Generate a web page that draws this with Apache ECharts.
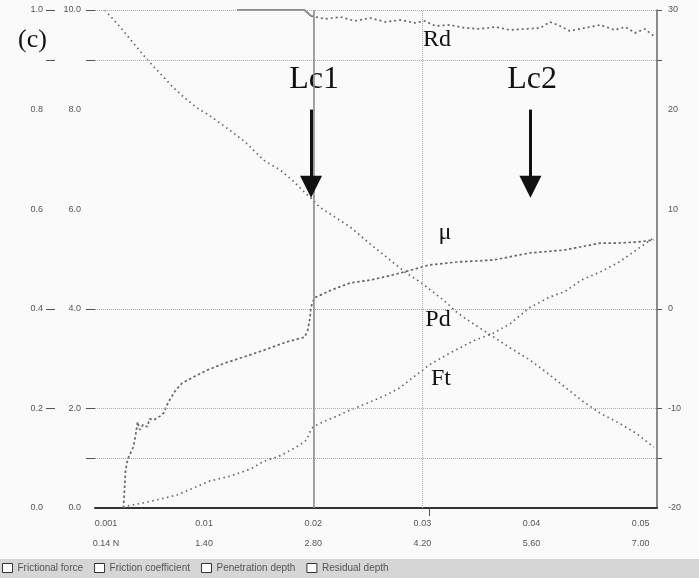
<!DOCTYPE html>
<html><head><meta charset="utf-8">
<script src="https://cdn.jsdelivr.net/npm/echarts@6/dist/echarts.min.js"></script>
<style>html,body{margin:0;padding:0;background:#fafafa}#c{width:699px;height:578px}</style>
</head><body><div id="c"></div>
<script>
// ---- data (x = scratch position, same units as tick labels) ----
const xTickVals = [0.001, 0.01, 0.02, 0.03, 0.04, 0.05];
const xTickRow1 = ["0.001", "0.01", "0.02", "0.03", "0.04", "0.05"];
const xTickRow2 = ["0.14 N", "1.40", "2.80", "4.20", "5.60", "7.00"];
const seriesNames = ["Frictional force", "Friction coefficient", "Penetration depth", "Residual depth"];

// Ft (N, left inner axis)
const ftX = [0.0026,0.0029,0.0044,0.0060,0.0075,0.0090,0.0105,0.0124,0.0142,0.0155,0.0171,0.0188,0.0194,0.0197,0.0200,0.0207,0.0220,0.0234,0.0250,0.0267,0.0279,0.0292,0.0306,0.0325,0.0348,0.0365,0.0381,0.0398,0.0417,0.0430,0.0446,0.0463,0.0479,0.0496,0.0505,0.0512];
const ftY = [0,0.04,0.10,0.18,0.26,0.40,0.54,0.64,0.78,0.94,1.06,1.27,1.37,1.53,1.63,1.71,1.83,1.97,2.11,2.27,2.41,2.63,2.87,3.11,3.37,3.51,3.71,4.02,4.24,4.34,4.58,4.74,4.92,5.18,5.32,5.42];

// mu (left outer axis)
const muX = [0.0026,0.0027,0.0028,0.0030,0.0035,0.0037,0.0039,0.0041,0.0044,0.0048,0.0050,0.0054,0.0060,0.0063,0.0066,0.0070,0.0074,0.0080,0.0092,0.0103,0.0119,0.0136,0.0155,0.0175,0.0192,0.0195,0.0197,0.0198,0.0201,0.0217,0.0234,0.0253,0.0273,0.0290,0.0306,0.0332,0.0365,0.0398,0.0430,0.0463,0.0479,0.0496,0.0512];
const muY = [0,0.036,0.076,0.098,0.122,0.143,0.173,0.157,0.167,0.163,0.179,0.177,0.185,0.191,0.207,0.223,0.237,0.251,0.265,0.277,0.291,0.303,0.317,0.333,0.343,0.357,0.382,0.404,0.422,0.438,0.452,0.458,0.468,0.478,0.488,0.494,0.498,0.512,0.518,0.532,0.532,0.534,0.538];

// Pd (right axis)
const pdX = [0.0009,0.0023,0.0035,0.0048,0.0060,0.0071,0.0082,0.0093,0.0105,0.0119,0.0136,0.0155,0.0170,0.0181,0.0192,0.0198,0.0206,0.0220,0.0234,0.0250,0.0267,0.0284,0.0299,0.0319,0.0332,0.0348,0.0365,0.0380,0.0398,0.0414,0.0430,0.0446,0.0463,0.0479,0.0496,0.0512];
const pdY = [30.0,28.3,26.7,25.0,23.6,22.3,21.2,20.2,19.4,18.3,16.9,14.9,13.9,12.9,11.7,11.1,10.2,9.2,8.2,6.7,5.2,3.7,2.6,0.9,-0.4,-1.6,-2.8,-3.9,-5.1,-6.4,-7.8,-9.2,-10.5,-11.4,-12.5,-13.9];

// Rd (right axis)
const rdTopX = [0.0130, 0.0192, 0.0198];
const rdTopY = [30.0, 30.0, 29.4];
const rdX = [0.0198,0.0211,0.0225,0.0238,0.0252,0.0266,0.0280,0.0293,0.0302,0.0312,0.0325,0.0339,0.0353,0.0367,0.0380,0.0394,0.0408,0.0417,0.0426,0.0435,0.0449,0.0463,0.0476,0.0486,0.0495,0.0504,0.0513];
const rdY = [29.4,29.1,29.3,28.9,29.2,28.8,29.0,28.7,28.9,28.4,28.5,28.2,28.1,28.3,28.0,28.1,28.2,28.8,28.4,27.9,28.2,28.5,28.0,28.3,27.7,28.1,27.3];

// annotation positions (data units)
const lc1X = 0.0198, lc2X = 0.0399;
const arrowTop = 8.0, arrowEnd = 6.45;      // Ft axis units
const hGrid = [1, 2, 4, 9, 10];              // Ft axis units
const vGrid = [0.0152, 0.0306];

const zip = (a, b) => a.map((v, i) => [v, b[i]]);
const lab = {fontFamily: 'Liberation Sans', fontSize: 9, color: '#555'};
const curve = (dash) => ({color: '#666', width: 1.7, type: dash});

const chart = echarts.init(document.getElementById('c'));
chart.setOption({
  backgroundColor: '#fafafa',
  animation: false,
  grid: {left: 95, right: 42, top: 10, bottom: 70},
  legend: {
    data: seriesNames, left: 2, top: 563, itemWidth: 10, itemHeight: 9, itemGap: 11, padding: 0,
    icon: 'rect', itemStyle: {color: '#fff', borderColor: '#333', borderWidth: 1},
    textStyle: {fontFamily: 'Liberation Sans', fontSize: 10, color: '#555'}
  },
  graphic: [
    {type: 'rect', left: 0, top: 559, shape: {width: 699, height: 19}, style: {fill: '#d6d6d6'}, z: -1},
    {type: 'text', left: 18, top: 27, style: {text: '(c)', font: '26px "Liberation Serif"', fill: '#111'}},
    {type: 'text', x: 314, y: 64, style: {text: 'Lc1', font: '32px "Liberation Serif"', fill: '#111', textAlign: 'center'}},
    {type: 'text', x: 532, y: 64, style: {text: 'Lc2', font: '32px "Liberation Serif"', fill: '#111', textAlign: 'center'}},
    {type: 'text', x: 437, y: 28, style: {text: 'Rd', font: '24px "Liberation Serif"', fill: '#111', textAlign: 'center'}},
    {type: 'text', x: 445, y: 221, style: {text: 'μ', font: '24px "Liberation Serif"', fill: '#111', textAlign: 'center'}},
    {type: 'text', x: 438, y: 308, style: {text: 'Pd', font: '24px "Liberation Serif"', fill: '#111', textAlign: 'center'}},
    {type: 'text', x: 441, y: 367, style: {text: 'Ft', font: '24px "Liberation Serif"', fill: '#111', textAlign: 'center'}}
  ],
  xAxis: {
    type: 'value', min: 0, max: 0.0515,
    axisLine: {show: true, lineStyle: {color: '#333', width: 2}},
    splitLine: {show: false},
    axisTick: {show: true, customValues: [vGrid[1]], length: 8, lineStyle: {color: '#555'}},
    axisLabel: Object.assign({}, lab, {
      customValues: xTickVals, margin: 6, lineHeight: 20,
      formatter: v => { const i = xTickVals.findIndex(t => Math.abs(t - v) < 1e-6); return i < 0 ? '' : xTickRow1[i] + '\n' + xTickRow2[i]; }
    })
  },
  yAxis: [
    {type: 'value', position: 'left', min: 0, max: 10, interval: 2,
     axisLine: {show: false}, splitLine: {show: false},
     axisTick: {show: true, customValues: [1, 2, 4, 9, 10], length: 9, lineStyle: {color: '#555'}},
     axisLabel: Object.assign({}, lab, {margin: 14, formatter: v => v.toFixed(1)})},
    {type: 'value', position: 'left', offset: 40, min: 0, max: 1, interval: 0.2,
     axisLine: {show: false}, splitLine: {show: false},
     axisTick: {show: true, customValues: [0.2, 0.4, 0.9, 1.0], length: 9, lineStyle: {color: '#555'}},
     axisLabel: Object.assign({}, lab, {margin: 12, formatter: v => v.toFixed(1)})},
    {type: 'value', position: 'right', min: -20, max: 30, interval: 10,
     axisLine: {show: true, lineStyle: {color: '#666', width: 1.5}}, splitLine: {show: false},
     axisTick: {show: true, customValues: [-15, -10, 0, 25, 30], length: 5, lineStyle: {color: '#555'}},
     axisLabel: Object.assign({}, lab, {margin: 11})}
  ],
  series: [
    {name: seriesNames[0], type: 'line', yAxisIndex: 0, showSymbol: false, data: zip(ftX, ftY), lineStyle: curve([1.5, 3.5]),
     markLine: {silent: true, symbol: 'none', label: {show: false},
       lineStyle: {type: 'dotted', color: '#aaa', width: 1},
       data: hGrid.map(v => ({yAxis: v})).concat(vGrid.map(v => ({xAxis: v}))).concat([{xAxis: lc1X, lineStyle: {type: 'solid', color: '#8a8a8a', width: 1.5}}])}},
    {name: seriesNames[1], type: 'line', yAxisIndex: 1, showSymbol: false, data: zip(muX, muY), lineStyle: curve([2.5, 2.5])},
    {name: seriesNames[2], type: 'line', yAxisIndex: 2, showSymbol: false, data: zip(pdX, pdY), lineStyle: curve([1.5, 3.5])},
    {name: seriesNames[3], type: 'line', yAxisIndex: 2, showSymbol: false, data: zip(rdTopX, rdTopY), lineStyle: {color: '#8a8a8a', width: 2, type: 'solid'}},
    {name: seriesNames[3], type: 'line', yAxisIndex: 2, showSymbol: false, data: zip(rdX, rdY), lineStyle: curve([2, 3])},
    {name: 'arrows', type: 'line', yAxisIndex: 0, data: [],
     markLine: {silent: true, label: {show: false}, symbol: ['none', 'triangle'], symbolSize: 22,
       itemStyle: {color: '#111'},
       lineStyle: {type: 'solid', color: '#111', width: 3},
       data: [
         [{coord: [lc1X, arrowTop]}, {coord: [lc1X, arrowEnd]}],
         [{coord: [lc2X, arrowTop]}, {coord: [lc2X, arrowEnd]}]
       ]}}
  ]
});
</script></body></html>
